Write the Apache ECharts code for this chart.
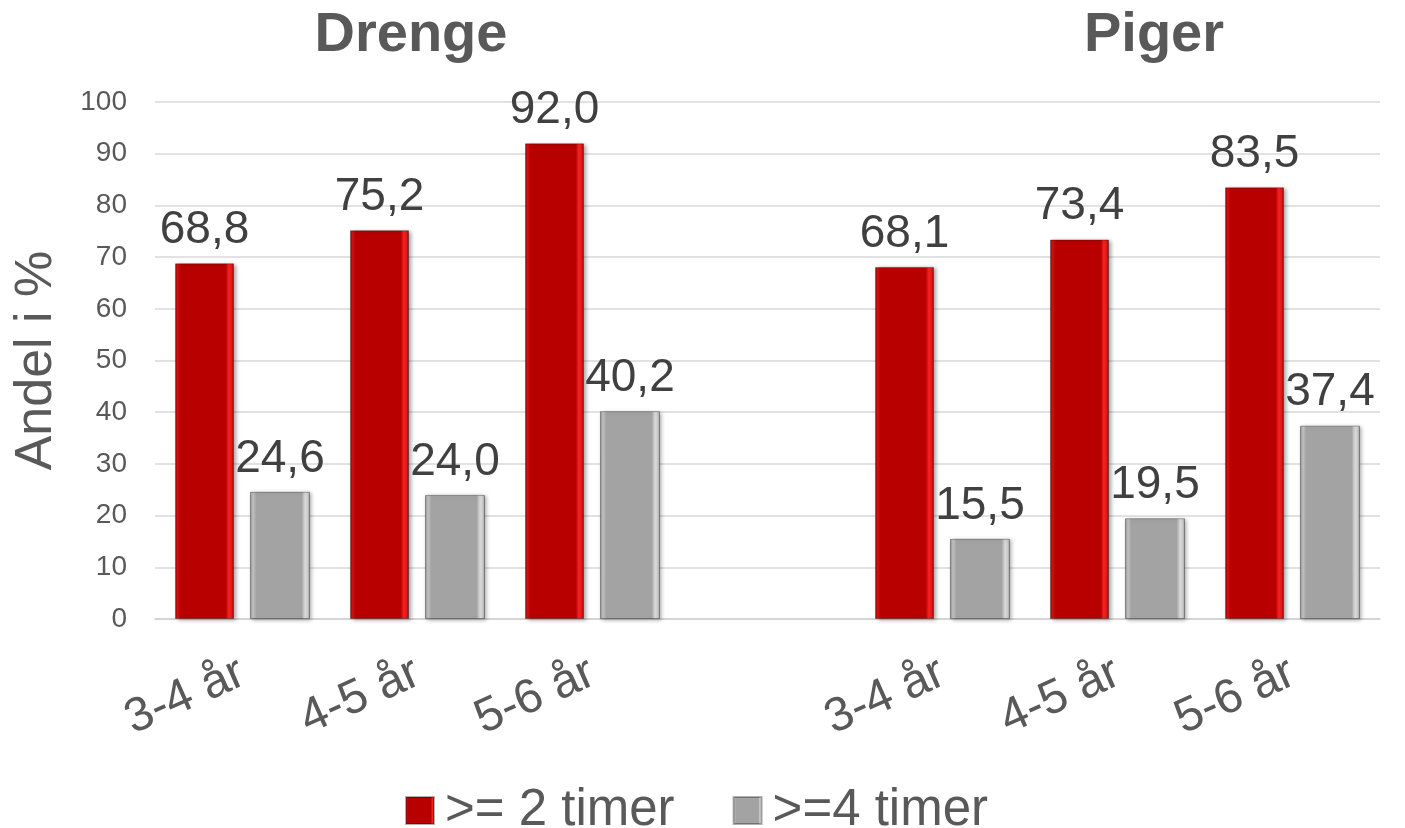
<!DOCTYPE html>
<html>
<head>
<meta charset="utf-8">
<script src="https://cdn.jsdelivr.net/npm/echarts@6/dist/echarts.min.js"></script>
<style>
  html, body { margin: 0; padding: 0; background: #fff; }
  #chart { width: 1405px; height: 828px; }
</style>
</head>
<body>
<div id="chart"></div>
<script>
// 数据
const categories = ['3-4 år', '4-5 år', '5-6 år', '', '3-4 år', '4-5 år', '5-6 år']
const groupTitles = ['Drenge', 'Piger']
const seriesNames = ['>= 2 timer', '>=4 timer']
const twoHours = [68.8, 75.2, 92.0, '-', 68.1, 73.4, 83.5]
const fourHours = [24.6, 24.0, 40.2, '-', 15.5, 19.5, 37.4]
const yTicks = { min: 0, max: 100, interval: 10 }

const font = "'Liberation Sans', Arial, sans-serif"

// 立体效果的渐变
const redFill = new echarts.graphic.LinearGradient(0, 0, 1, 0, [
  { offset: 0, color: '#8c0000' },
  { offset: 0.04, color: '#d41212' },
  { offset: 0.1, color: '#b80000' },
  { offset: 0.86, color: '#b80000' },
  { offset: 0.91, color: '#f82222' },
  { offset: 0.96, color: '#e01818' },
  { offset: 1, color: '#8c0000' }
])
const grayFill = new echarts.graphic.LinearGradient(0, 0, 1, 0, [
  { offset: 0, color: '#8a8a8a' },
  { offset: 0.05, color: '#c4c4c4' },
  { offset: 0.11, color: '#a3a3a3' },
  { offset: 0.86, color: '#a3a3a3' },
  { offset: 0.92, color: '#dadada' },
  { offset: 0.97, color: '#c8c8c8' },
  { offset: 1, color: '#8a8a8a' }
])

const labelCfg = {
  show: true,
  position: 'top',
  distance: 10,
  color: '#404040',
  fontSize: 46,
  fontFamily: font,
  formatter: (p) => Number(p.value).toFixed(1).replace('.', ',')
}

const barStyle = (fill) => ({
  color: fill,
  borderColor: 'rgba(0,0,0,0.3)',
  borderWidth: 1,
  shadowColor: 'rgba(0,0,0,0.35)',
  shadowBlur: 4,
  shadowOffsetX: 2,
  shadowOffsetY: 1
})

const chart = echarts.init(document.getElementById('chart'))
chart.setOption({
  animation: false,
  title: [
    { text: groupTitles[0], left: 406, top: 3, textAlign: 'center',
      textStyle: { fontSize: 56, fontWeight: 'bold', color: '#595959', fontFamily: font } },
    { text: groupTitles[1], left: 1149, top: 3, textAlign: 'center',
      textStyle: { fontSize: 56, fontWeight: 'bold', color: '#595959', fontFamily: font } }
  ],
  legend: {
    data: seriesNames,
    top: 780,
    left: 400,
    itemWidth: 28,
    itemHeight: 27,
    itemGap: 58,
    icon: 'rect',
    textStyle: { fontSize: 51, color: '#595959', fontFamily: font, padding: [0, 0, 0, 6] }
  },
  grid: { left: 155, right: 25, top: 102, bottom: 209 },
  xAxis: {
    type: 'category',
    data: categories,
    axisTick: { show: false },
    axisLine: { lineStyle: { color: '#d0d0d0', width: 1.5 } },
    axisLabel: {
      interval: 0,
      rotate: 24,
      margin: 52,
      fontSize: 48,
      color: '#595959',
      fontFamily: font
    }
  },
  yAxis: {
    type: 'value',
    min: yTicks.min,
    max: yTicks.max,
    interval: yTicks.interval,
    name: 'Andel i %',
    nameLocation: 'middle',
    nameGap: 92,
    nameTextStyle: { fontSize: 52, color: '#595959', fontFamily: font },
    axisLine: { show: false },
    axisTick: { show: false },
    axisLabel: { fontSize: 28, color: '#595959', margin: 28, fontFamily: font },
    splitLine: { lineStyle: { color: '#d9d9d9', width: 1.5 } }
  },
  series: [
    {
      name: seriesNames[0],
      type: 'bar',
      data: twoHours,
      barWidth: 59,
      barGap: '27%',
      itemStyle: barStyle(redFill),
      label: labelCfg
    },
    {
      name: seriesNames[1],
      type: 'bar',
      data: fourHours,
      barWidth: 60,
      itemStyle: barStyle(grayFill),
      label: labelCfg
    }
  ]
})
</script>
</body>
</html>
